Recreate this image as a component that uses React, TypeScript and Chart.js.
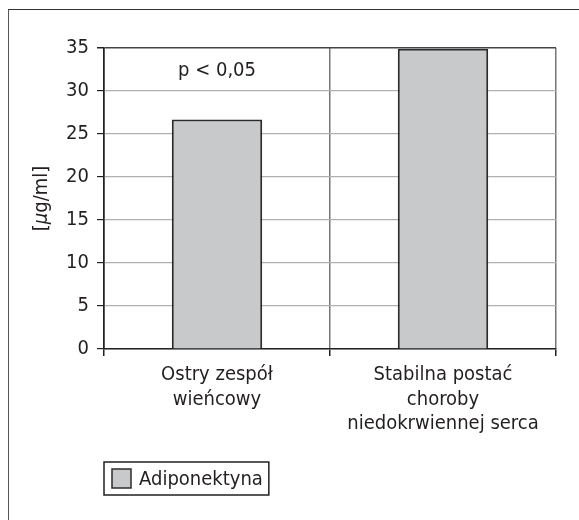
import React, { useEffect, useRef } from "react";
import { Chart, registerables } from "chart.js";

Chart.register(...registerables);

const categories: string[][] = [
  ["Ostry zespół", "wieńcowy"],
  ["Stabilna postać", "choroby", "niedokrwiennej serca"],
];
const seriesLabel = "Adiponektyna";
const adiponektyna: number[] = [26.7, 34.9];
const yTicks = { min: 0, max: 35, step: 5 };
const pText = "p < 0,05";
const pTextValue = 32.3;
const pTextCategory = 0;

const FONT = "'Liberation Sans Narrow', 'DejaVu Sans Condensed', Roboto, sans-serif";
const TEXT = "#231f20";

const overlayPlugin = {
  id: "overlay",
  afterDraw(chart: any) {
    const ctx = chart.ctx as CanvasRenderingContext2D;
    const xs = chart.scales.x;
    const ys = chart.scales.y;
    const area = chart.chartArea;
    ctx.save();
    // p-value annotation
    ctx.fillStyle = TEXT;
    ctx.font = `20px ${FONT}`;
    ctx.textAlign = "center";
    ctx.textBaseline = "middle";
    ctx.fillText(pText, xs.getPixelForValue(pTextCategory), ys.getPixelForValue(pTextValue));

    // y-axis title with italic mu
    const cy = (area.top + area.bottom) / 2;
    ctx.translate(41.5, cy);
    ctx.rotate(-Math.PI / 2);
    ctx.textBaseline = "middle";
    ctx.textAlign = "left";
    const parts: [string, string][] = [
      ["[", "normal"],
      ["\u03bc", "italic"],
      ["g/ml]", "normal"],
    ];
    let total = 0;
    for (const [t, s] of parts) {
      ctx.font = `${s} 20px ${FONT}`;
      total += ctx.measureText(t).width;
    }
    let x = -total / 2;
    for (const [t, s] of parts) {
      ctx.font = `${s} 20px ${FONT}`;
      ctx.fillText(t, x, 0);
      x += ctx.measureText(t).width;
    }
    ctx.restore();

    // legend
    ctx.save();
    const ds = chart.data.datasets[0];
    const lx = area.left;
    const ly = area.bottom + 113;
    ctx.font = `20px ${FONT}`;
    const tw = ctx.measureText(ds.label).width;
    const boxW = 8 + 19 + 8 + tw + 6;
    const boxH = 33;
    ctx.lineWidth = 1.5;
    ctx.strokeStyle = "#231f20";
    ctx.strokeRect(lx, ly, boxW, boxH);
    ctx.fillStyle = ds.backgroundColor;
    ctx.fillRect(lx + 8, ly + 7, 19, 19);
    ctx.strokeStyle = ds.borderColor;
    ctx.strokeRect(lx + 8, ly + 7, 19, 19);
    ctx.fillStyle = TEXT;
    ctx.textAlign = "left";
    ctx.textBaseline = "middle";
    ctx.fillText(ds.label, lx + 35, ly + boxH / 2 + 1);
    ctx.restore();
  },
};

export default function App() {
  const ref = useRef<HTMLCanvasElement | null>(null);
  useEffect(() => {
    if (!ref.current) return;
    const chart = new Chart(ref.current, {
      type: "bar",
      data: {
        labels: categories,
        datasets: [
          {
            label: seriesLabel,
            data: adiponektyna,
            backgroundColor: "#c8c9cb",
            borderColor: "#2b2b2b",
            borderWidth: 2,
            categoryPercentage: 1,
            barPercentage: 0.4,
          },
        ],
      },
      options: {
        animation: false,
        responsive: true,
        maintainAspectRatio: false,
        layout: { padding: { top: 48, right: 23, left: 0, bottom: 0 } },
        plugins: { legend: { display: false }, tooltip: { enabled: false } },
        scales: {
          x: {
            grid: {
              offset: true,
              color: (c: any) => (c.index === 0 ? "#222" : "#777"),
              lineWidth: 1.5,
              tickLength: 7,
              tickColor: "#222",
            },
            border: { color: "#222", width: 1.5 },
            ticks: {
              color: TEXT,
              font: { family: FONT, size: 20, lineHeight: 1.22 },
              padding: 7,
              maxRotation: 0,
              autoSkip: false,
            },
            afterFit: (s: any) => {
              s.height = 171;
            },
          },
          y: {
            min: yTicks.min,
            max: yTicks.max,
            ticks: {
              stepSize: yTicks.step,
              color: TEXT,
              font: { family: FONT, size: 20 },
              padding: 8,
            },
            grid: {
              color: (c: any) => (c.tick && c.tick.value === yTicks.max ? "#444" : "#b0b0b0"),
              lineWidth: (c: any) => (c.tick && c.tick.value === yTicks.max ? 1.5 : 1.2),
              tickLength: 7,
              tickColor: "#222",
            },
            border: { color: "#222", width: 1.5 },
            afterFit: (s: any) => {
              s.width = 104;
            },
          },
        },
      },
      plugins: [overlayPlugin],
    });
    return () => chart.destroy();
  }, []);

  return (
    <div style={{ position: "absolute", left: 0, top: 0, width: 579, height: 520, overflow: "hidden", background: "#fff" }}>
      <div
        style={{
          position: "absolute",
          left: 7.5,
          top: 8.5,
          width: 600,
          height: 600,
          borderTop: "1.5px solid #333",
          borderLeft: "1.5px solid #555",
          boxSizing: "border-box",
        }}
      />
      <div style={{ position: "absolute", left: 0, top: 0, width: 579, height: 520 }}>
        <canvas ref={ref} />
      </div>
    </div>
  );
}
